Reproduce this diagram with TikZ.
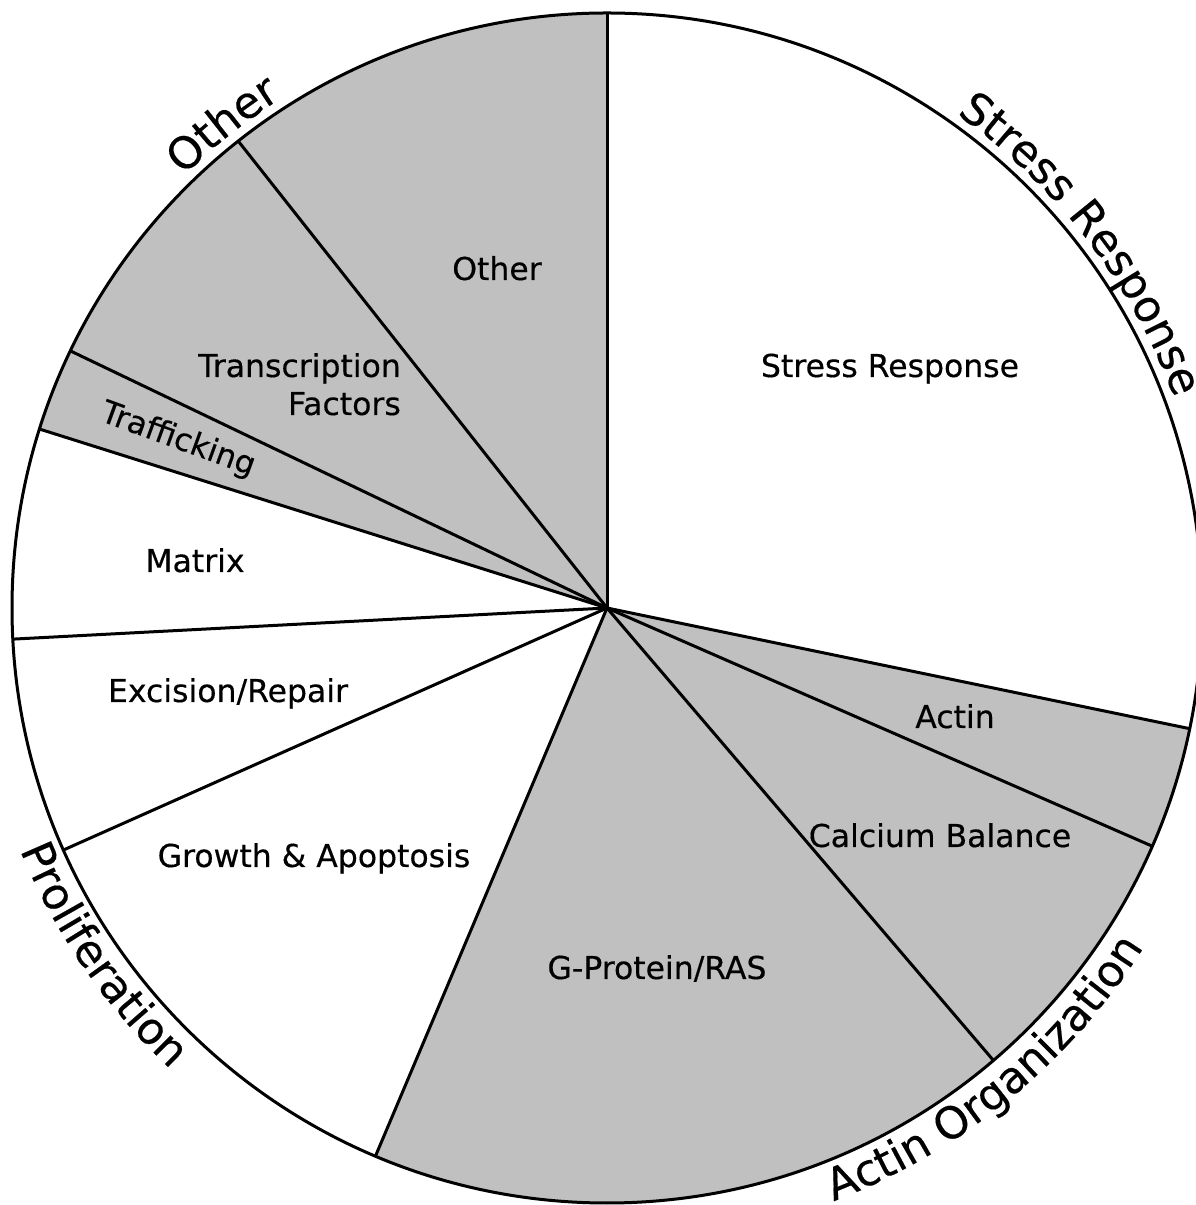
\documentclass[tikz,border=0pt]{standalone}
\usepackage{fontspec}
\setmainfont{DejaVu Sans}[FakeBold=0.4]
\usetikzlibrary{decorations.text}
\definecolor{piegray}{RGB}{192,192,192}
\newcommand{\pielabfont}{\fontsize{31.5}{37}\selectfont}
\newcommand{\pieoutfont}{\fontsize{44}{50}\selectfont}
\begin{document}
\begin{tikzpicture}[x=1pt,y=1pt,
  edge/.style={draw=black, line width=3pt},
  inlabel/.style={font=\pielabfont, inner sep=0pt, anchor=base},
  arclabel/.style={decorate, decoration={text along path, text align=center, text={|\pieoutfont|#1}}}]
\useasboundingbox (0,0) rectangle (1196,1205);
\fill[white] (0,0) rectangle (1196,1205);
\begin{scope}[shift={(607,597)}]
  \def\R{595}
  % sectors
  \fill[white] (0,0) circle (\R);
  \fill[piegray] (0,0) -- (90:\R) arc[start angle=90, end angle=162.5, radius=\R] -- cycle;
  \fill[piegray] (0,0) -- (-112.9:\R) arc[start angle=-112.9, end angle=-11.7, radius=\R] -- cycle;
  % radial boundaries
  \coordinate (O) at (0,0);
  \foreach \a in {90,-11.7,-23.6,-49.5,-112.9,204.0,183.0,162.5,154.4,128.3}
    \draw[edge] (O) -- (\a:\R);
  \draw[edge] (O) circle (\R);
  % outer curved labels
  \path[arclabel={Stress Response}] (67.5:605) arc[start angle=67.5, end angle=7.5, radius=605];
  \path[arclabel={Other}] (148.5:605) arc[start angle=148.5, end angle=108.5, radius=605];
  \path[arclabel={Actin Organization}] (-80.7:635) arc[start angle=-80.7, end angle=-20.7, radius=635];
  \path[arclabel={Proliferation}] (184.5:635) arc[start angle=184.5, end angle=244.5, radius=635];
\end{scope}
% inner labels
\node[inlabel] (other) at (497,925) {Other};
\node[inlabel] (stress) at (890,828) {Stress Response};
\node[inlabel, anchor=base east] (trans) at (401,828) {Transcription};
\node[inlabel, anchor=base east] (fact) at (401,790) {Factors};
\node[font=\pielabfont, inner sep=0pt, rotate=-20] (traff) at (178,765) {Trafficking};
\node[inlabel] (matrix) at (195,633) {Matrix};
\node[inlabel] (excision) at (228,503) {Excision/Repair};
\node[inlabel] (growth) at (314,338) {Growth \& Apoptosis};
\node[inlabel] (gprot) at (657,226) {G-Protein/RAS};
\node[inlabel] (calcium) at (940,358) {Calcium Balance};
\node[inlabel] (actin) at (955,477) {Actin};
\end{tikzpicture}
\end{document}
